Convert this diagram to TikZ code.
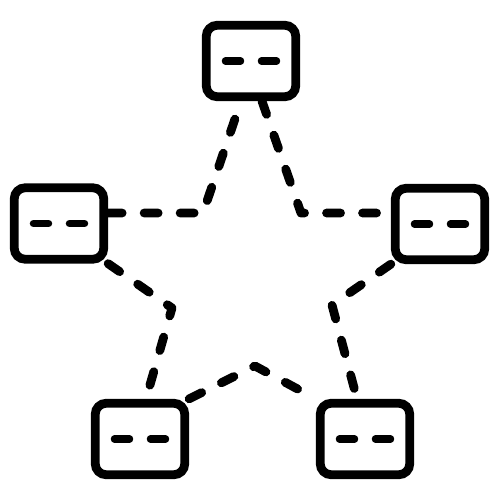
\documentclass[tikz,border=0pt]{standalone}
\usetikzlibrary{calc,backgrounds}
\begin{document}
\begin{tikzpicture}[x=0.5pt,y=-0.5pt,
  box/.style={draw,line width=4.4pt,rounded corners=5.5pt,minimum width=44.75pt,minimum height=35.75pt,inner sep=0pt,fill=white},
  link/.style={line width=4.4pt,line cap=round,line join=round,dash pattern=on 7pt off 11pt},
  bar/.style={line width=3.75pt,line cap=round}]
\useasboundingbox (0,0) rectangle (500,500);
\node[box] (t) at (251,61) {};
\node[box] (l) at (59,223.5) {};
\node[box] (r) at (440,224) {};
\node[box] (bl) at (140,439) {};
\node[box] (br) at (365,439) {};
\foreach \n in {t,l,r,bl,br}{
  \draw[bar] ($(\n.center)+(-25.5,0)$) -- ++(15,0);
  \draw[bar] ($(\n.center)+(10.5,0)$) -- ++(15,0);
}
\coordinate (ilu) at (203,213);
\coordinate (iru) at (301,213);
\coordinate (ill) at (172,308);
\coordinate (irl) at (332,305);
\coordinate (ib) at (255,366);
\begin{pgfonlayer}{background}
\draw[link] ($(l.east)+(0,-10.5)$) -- (ilu) -- ($(t.south)+(-10,0)$);
\draw[link] ($(t.south)+(11,0)$) -- (iru) -- ($(r.west)+(0,-11)$);
\draw[link] (l.south east) -- (ill) -- ($(bl.north)+(6,0)$);
\draw[link] (bl.north east) -- (ib) -- (br.north west);
\draw[link] (r.south west) -- (irl) -- ($(br.north)+(-8,0)$);
\end{pgfonlayer}
\end{tikzpicture}
\end{document}
